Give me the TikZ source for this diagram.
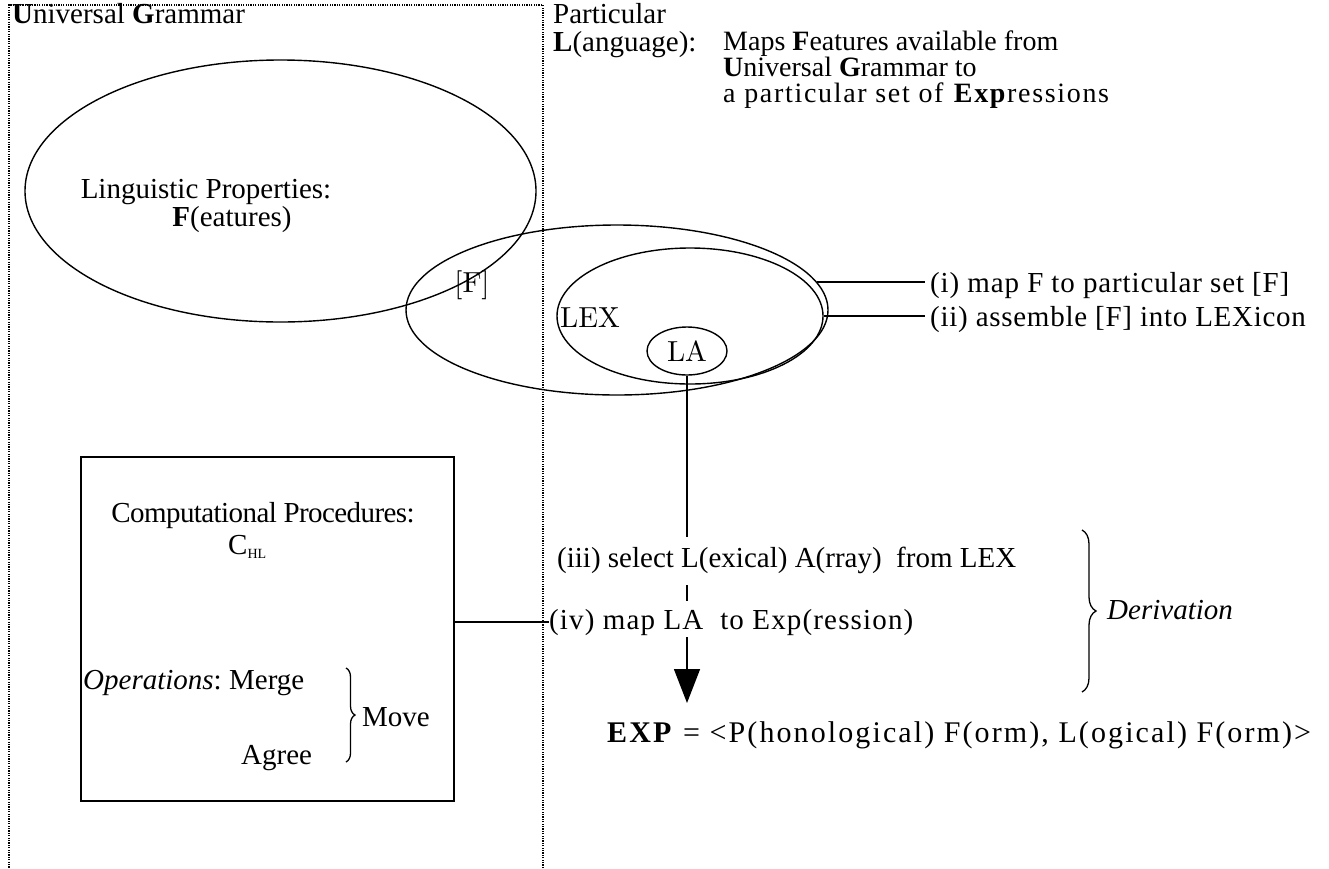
\documentclass[tikz,border=0pt]{standalone}
\usepackage{fontspec}
\setmainfont{Liberation Serif}
\newfontfamily\lmfont{lmroman10-regular.otf}
\newcommand{\lsp}[1]{\addfontfeatures{LetterSpace=#1}}
\usetikzlibrary{shapes.geometric,arrows.meta,decorations.pathreplacing}
\begin{document}
\begin{tikzpicture}[x=1pt,y=-1pt,
  txt/.style={inner sep=0pt, anchor=base west, font=\fontsize{29}{30}\selectfont},
  mtxt/.style={inner sep=0pt, anchor=base west, font=\fontsize{28}{28}\selectfont, text height=18pt, text depth=4pt},
  ctxt/.style={inner sep=0pt, anchor=base, font=\fontsize{29}{30}\selectfont},
  lm/.style={inner sep=0pt, anchor=base, font=\fontsize{29}{30}\selectfont\lmfont},
  ell/.style={draw, ellipse, line width=1.4pt, inner sep=0pt},
  conn/.style={line width=1.5pt},
  frame/.style={line width=1.3pt, dash pattern=on 1.2pt off 1.2pt},
  brc/.style={line width=1.3pt, decorate, decoration={brace, amplitude=#1}}
]
\useasboundingbox (0,0) rectangle (1329,868);
% dotted frame of UG
\draw[frame] (543,868) -- (543,5) -- (9,5) -- (9,868);

% headings
\node[txt] (ug) at (12,23) {\textbf{U}niversal \textbf{G}rammar};
\node[txt] (pl1) at (553,23) {Particular};
\node[txt] (pl2) at (553,51) {\textbf{L}(anguage):};
\node[mtxt] (maps1) at (723,50) {Maps \textbf{F}eatures available from};
\node[mtxt] (maps2) at (723,76) {\textbf{U}niversal \textbf{G}rammar to};
\node[mtxt] (maps3) at (723,102) {\lsp{6}a particular set of \textbf{Exp}ressions};

% ellipses
\draw[line width=1.4pt] (280.5,191) ellipse [x radius=255.5, y radius=131];
\node[ell, minimum width=422pt, minimum height=170pt] (mid) at (617,310) {};
\node[ell, minimum width=266pt, minimum height=136pt] (lex) at (690,316) {};
\node[ell, minimum width=80pt, minimum height=48pt] (la) at (687,351) {};

\node[ctxt] (lp) at (206,198) {Linguistic Properties:};
\node[ctxt] (fe) at (232,226) {\textbf{F}(eatures)};
\node[lm] (fset) at (472,292) {[F]};
\node[lm] (lextxt) at (590,327) {LEX};
\node[lm] (latxt) at (687,361) {LA};

% (i) (ii)
\node[txt] (t1) at (930,292) {\lsp{3}(i) map F to particular set [F]};
\node[txt] (t2) at (930,326) {\lsp{2.5}(ii) assemble [F] into LEXicon};
\draw[conn] (mid.8) -- (mid.8 -| t1.west) [shorten >=5pt];
\draw[conn] (lex.east) -- (lex.east -| t2.west) [shorten >=5pt];

% computational procedures box
\node[draw, line width=2pt, minimum width=373pt, minimum height=344pt, anchor=north west, inner sep=0pt] (cp) at (80,456) {};
\node[ctxt] (cpt) at (263,522) {\lsp{-2}Computational Procedures:};
\node[txt] (chl) at (228,554) {C\raisebox{-0.3ex}{\fontsize{14}{14}\selectfont HL}};
\node[txt] (ops) at (83,689) {\textit{Operations}:};
\node[txt] (merge) at (229,689) {Merge};
\node[txt] (agree) at (241,764) {Agree};
\draw[brc=9pt] (346,668) -- (346,762);
\node[txt] (move) at (362,726) {Move};

% derivation
\node[txt] (sel) at (557,567) {(iii) select L(exical) A(rray)\ \ from LEX};
\node[txt] (map) at (549,629) {\lsp{4}(iv) map LA\ \ to Exp(ression)};
\draw[brc=14pt] (1082,530) -- (1082,692);
\node[txt] (der) at (1107,619) {\textit{Derivation}};

\node[txt] (exp) at (607,742) {\fontsize{30}{30}\selectfont\lsp{7}\textbf{EXP} = <P(honological) F(orm), L(ogical) F(orm)>};

\coordinate (a0) at (la.south |- 0,537);
\coordinate (s1) at (la.south |- 0,585);
\coordinate (s2) at (la.south |- 0,601);
\coordinate (a1) at (la.south |- 0,637);
\coordinate (a2) at (la.south |- 0,703);
\draw[conn] (la.south) -- (a0);
\draw[conn] (s1) -- (s2);
\draw[conn, -{Triangle[width=26pt,length=34pt]}] (a1) -- (a2);
\draw[conn] (cp.east |- map.west) -- (map.west);
\end{tikzpicture}
\end{document}
